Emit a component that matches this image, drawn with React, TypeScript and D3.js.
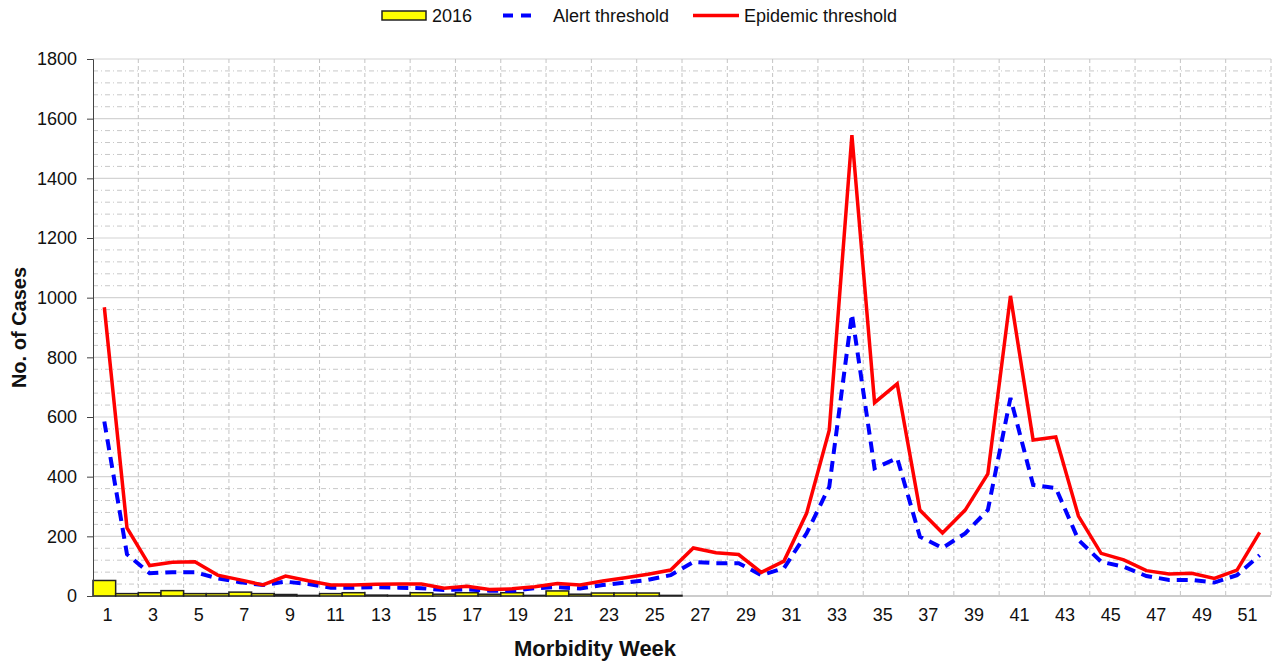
import React, { useEffect, useRef } from 'react'
import * as d3 from 'd3'

/* weeks 1..52, 2016 cases reported for the first 26 weeks */
const weeks = d3.range(1, 53)
const cases2016 = [
    52, 8, 11, 18, 8, 8, 13, 8, 5, 2, 8, 11, 3, 2, 11, 6, 11, 6, 11, 2, 17, 6,
    10, 10, 10, 2,
]
const alertThreshold = [
    585, 140, 76, 80, 80, 59, 46, 37, 48, 40, 28, 28, 30, 28, 26, 20, 22, 18, 18,
    26, 30, 25, 37, 45, 54, 70, 114, 110, 110, 70, 93, 210, 366, 945, 428, 462,
    199, 161, 210, 288, 664, 372, 362, 188, 115, 98, 67, 54, 54, 45, 70, 137,
]
const epidemicThreshold = [
    968, 228, 102, 113, 115, 70, 54, 37, 67, 51, 37, 37, 39, 40, 40, 26, 33, 22,
    24, 31, 42, 37, 50, 61, 73, 87, 161, 145, 139, 79, 117, 277, 556, 1545, 648,
    711, 288, 211, 288, 409, 1006, 523, 533, 268, 143, 121, 85, 74, 76, 59, 87,
    213,
]
const yTicks = d3.range(0, 2000, 200)
const yMinorTicks = d3.range(0, 1801, 40).filter((d) => d % 200 !== 0)
const xTickLabels = d3.range(1, 52, 2)

const width = 1274
const height = 661
const margin = { top: 59, right: 3, bottom: 65, left: 93 }
const font = 'Arial, "Liberation Sans", sans-serif'

const App = () => {
    const yAxisRef = useRef<SVGGElement>(null)

    const x = d3
        .scaleBand<number>()
        .domain(weeks)
        .range([margin.left, width - margin.right])
    const y = d3
        .scaleLinear()
        .domain([0, 1800])
        .range([height - margin.bottom, margin.top])
    /* tick labels sit a little right of the band centres in the original */
    const xLabel = d3.scaleLinear().domain([1, 51]).range([107.5, 1247.5])

    const line = d3
        .line<number>()
        .x((d, i) => x(weeks[i])! + x.bandwidth() / 2)
        .y((d) => y(d))

    useEffect(() => {
        const yAxis = d3
            .axisLeft(y)
            .tickValues(yTicks)
            .tickFormat(d3.format('d'))
            .tickSize(6)
            .tickPadding(10)
        d3.select(yAxisRef.current!)
            .call(yAxis)
            .call((g) => g.select('.domain').attr('stroke', '#444'))
            .call((g) =>
                g
                    .selectAll('text')
                    .attr('font-size', 18)
                    .attr('font-family', font)
                    .attr('fill', '#111')
            )
            .call((g) => g.selectAll('line').attr('stroke', '#444'))
    }, [])

    const x0 = margin.left
    const x1 = width - margin.right
    const yBase = y(0)

    return (
        <svg width={width} height={height} style={{ position: 'absolute', left: 0, top: 0 }}>
            <rect width={width} height={height} fill="#fff" />
            {/* grid */}
            {yMinorTicks.map((d) => (
                <line key={'m' + d} x1={x0} x2={x1} y1={y(d)} y2={y(d)} stroke="#c8c8c8" strokeDasharray="5,3,1,3" />
            ))}
            {yTicks.slice(1).map((d) => (
                <line key={'M' + d} x1={x0} x2={x1} y1={y(d)} y2={y(d)} stroke="#d4d4d4" strokeWidth={1.2} />
            ))}
            {weeks
                .filter((w) => w % 2 === 0)
                .map((w) => (
                    <line key={'v' + w} x1={x(w)! + x.bandwidth()} x2={x(w)! + x.bandwidth()} y1={margin.top} y2={yBase} stroke="#c4c4c4" strokeDasharray="4,3" />
                ))}
            <line x1={x0} x2={x1} y1={yBase} y2={yBase} stroke="#bbb" strokeWidth={1.5} />

            {/* 2016 bars */}
            {cases2016.map((d, i) => (
                <rect
                    key={i}
                    x={x(weeks[i])}
                    y={y(d)}
                    width={x.bandwidth()}
                    height={yBase - y(d)}
                    fill="#ffff00"
                    stroke="#222"
                    strokeWidth={1.5}
                />
            ))}

            {/* thresholds */}
            <path d={line(alertThreshold)!} fill="none" stroke="#0000ff" strokeWidth={4} strokeDasharray="11,7" />
            <path d={line(epidemicThreshold)!} fill="none" stroke="#ff0000" strokeWidth={3.5} strokeLinejoin="miter" />

            {/* axes */}
            <g ref={yAxisRef} transform={`translate(${margin.left},0)`} />
            <g fontFamily={font} fontSize={18} fill="#111" textAnchor="middle">
                {xTickLabels.map((w) => (
                    <text key={w} x={xLabel(w)} y={621}>
                        {w}
                    </text>
                ))}
            </g>
            <text x={595} y={656} textAnchor="middle" fontFamily={font} fontSize={22} fontWeight="bold" fill="#111">
                Morbidity Week
            </text>
            <text
                transform={`translate(26,${(margin.top + yBase) / 2}) rotate(-90)`}
                textAnchor="middle"
                fontFamily={font}
                fontSize={20}
                fontWeight="bold"
                fill="#111"
            >
                No. of Cases
            </text>

            {/* legend */}
            <g fontFamily={font} fontSize={18} fill="#111">
                <rect x={382} y={11} width={44} height={9} fill="#ffff00" stroke="#222" strokeWidth={1.5} />
                <text x={432} y={22}>2016</text>
                <line x1={503} x2={538} y1={15.5} y2={15.5} stroke="#0000ff" strokeWidth={4} strokeDasharray="10,8" />
                <text x={553} y={22}>Alert threshold</text>
                <line x1={693} x2={739} y1={15.5} y2={15.5} stroke="#ff0000" strokeWidth={3.5} />
                <text x={744} y={22}>Epidemic threshold</text>
            </g>
        </svg>
    )
}

export default App
